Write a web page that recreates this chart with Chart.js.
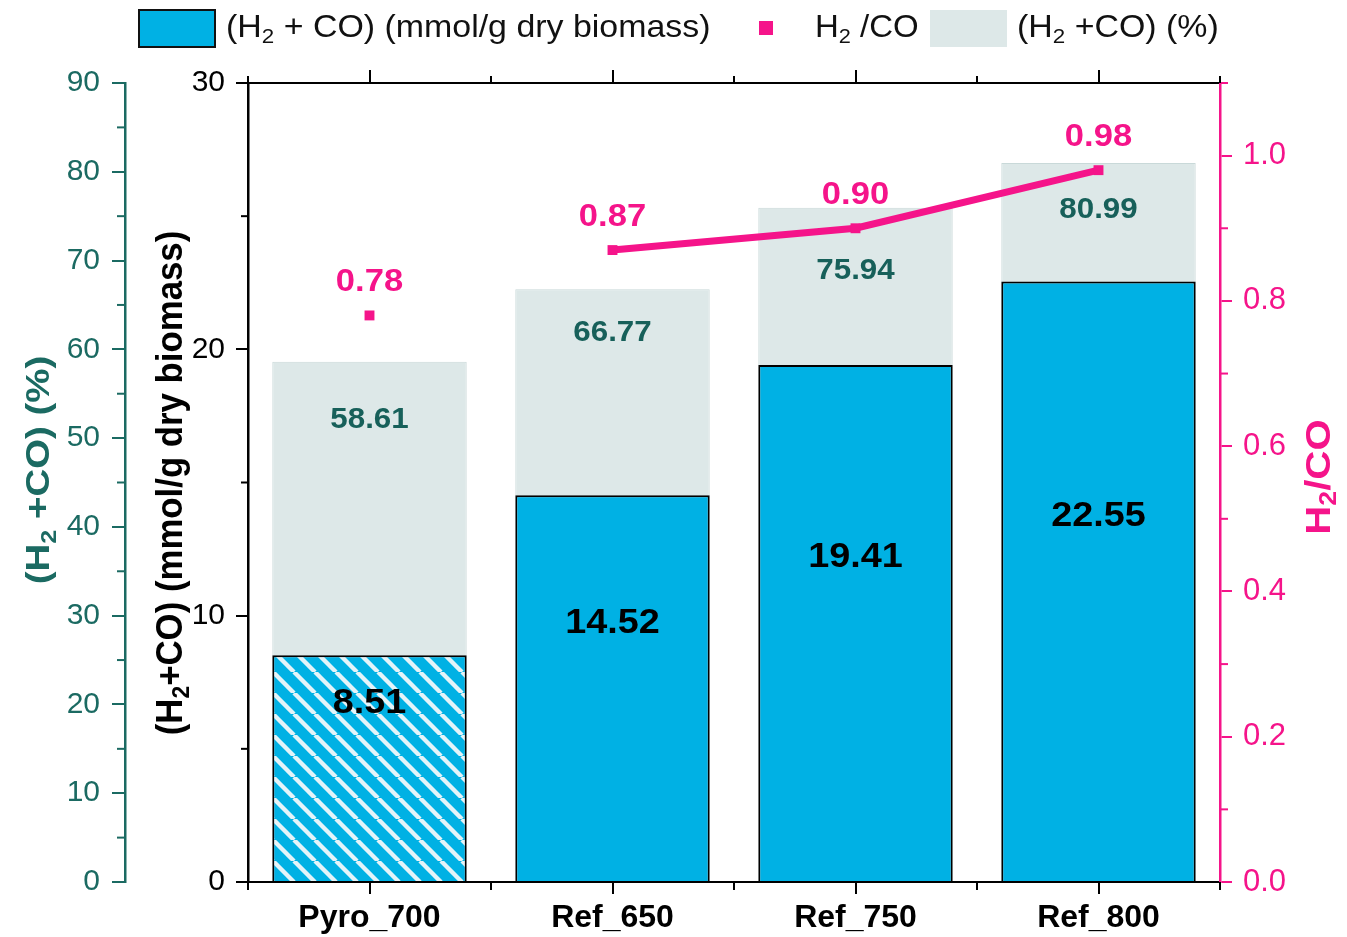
<!DOCTYPE html>
<html><head><meta charset="utf-8">
<script src="https://cdn.jsdelivr.net/npm/chart.js@4.4.1/dist/chart.umd.min.js"></script>
<style>html,body{margin:0;padding:0;background:#fff;overflow:hidden}canvas{display:block}</style>
</head><body>
<canvas id="c" width="1347" height="937"></canvas>
<script>
// ---------------- data ----------------
const categories = ['Pyro_700', 'Ref_650', 'Ref_750', 'Ref_800'];
const syngasYield = [8.51, 14.52, 19.41, 22.55];      // (H2+CO) mmol/g dry biomass
const syngasPercent = [58.61, 66.77, 75.94, 80.99];   // (H2+CO) %
const h2coRatio = [0.78, 0.87, 0.90, 0.98];           // H2/CO
const yieldRange = [0, 30];
const percentRange = [0, 90];
const ratioRange = [0, 1.1];

// ---------------- styles ----------------
const BLUE = '#00b1e4', PINK = '#f5148a', TEAL = '#1b6a62', TEAL_TXT = '#17605a', LIGHT = '#dde8e8';
const SANS = "'Liberation Sans', Arial, sans-serif";

// hatch pattern for first bar
function makeHatch() {
  const s = 21, c = document.createElement('canvas');
  c.width = s; c.height = s;
  const g = c.getContext('2d');
  g.fillStyle = BLUE; g.fillRect(0, 0, s, s);
  g.strokeStyle = '#e4f4f9'; g.lineWidth = 4.4;
  for (const o of [-s, 0, s]) { g.beginPath(); g.moveTo(o, 0); g.lineTo(o + s, s); g.stroke(); }
  return g.createPattern(c, 'repeat');
}
const hatch = makeHatch();

// rich text with subscripts: parts = [[text, isSub], ...]
function richWidth(ctx, parts, size, weight, family) {
  let w = 0;
  for (const [t, sub] of parts) { ctx.font = `${weight} ${sub ? size * 0.66 : size}px ${family}`; w += ctx.measureText(t).width; }
  return w;
}
function drawRich(ctx, parts, x, y, size, weight, color, align, rot, sx) {
  ctx.save();
  ctx.translate(x, y);
  if (rot) ctx.rotate(rot);
  ctx.scale(sx || 1.08, 1);
  const w = richWidth(ctx, parts, size, weight, SANS);
  let cx = align === 'center' ? -w / 2 : 0;
  ctx.fillStyle = color; ctx.textBaseline = 'middle'; ctx.textAlign = 'left';
  for (const [t, sub] of parts) {
    ctx.font = `${weight} ${sub ? size * 0.66 : size}px ${SANS}`;
    ctx.fillText(t, cx, sub ? size * 0.28 : 0);
    cx += ctx.measureText(t).width;
  }
  ctx.restore();
}

const decorPlugin = {
  id: 'decor',
  afterDraw(chart) {
    const ctx = chart.ctx, ca = chart.chartArea, sc = chart.scales;
    ctx.save();
    ctx.lineWidth = 2; ctx.lineCap = 'butt';
    const seg = (x1, y1, x2, y2, col) => { ctx.strokeStyle = col; ctx.beginPath(); ctx.moveTo(x1, y1); ctx.lineTo(x2, y2); ctx.stroke(); };
    // minor ticks
    for (let v = 5; v < yieldRange[1]; v += 10) { const y = sc.y.getPixelForValue(v); seg(ca.left - 7, y, ca.left, y, '#000'); }
    for (let v = 5; v < percentRange[1]; v += 10) { const y = sc.yPct.getPixelForValue(v); seg(sc.yPct.right - 8, y, sc.yPct.right, y, TEAL); }
    for (let k = 1; k <= 11; k += 2) { const y = sc.yRatio.getPixelForValue(k / 10); seg(ca.right, y, ca.right + 8, y, PINK); }
    for (let i = 0; i <= categories.length; i++) {
      const x = sc.x.getPixelForValue(i - 0.5);
      seg(x, ca.bottom, x, ca.bottom + 8, '#000');
      seg(x, ca.top, x, ca.top - 7, '#000');
    }
    // data labels
    const mPct = chart.getDatasetMeta(0), mY = chart.getDatasetMeta(1), mR = chart.getDatasetMeta(2);
    const pctOffset = [58, 44, 63, 47];
    const yieldLabelAt = [6.7, 9.73, 12.2, 13.74];
    mPct.data.forEach((b, i) => drawRich(ctx, [[syngasPercent[i].toFixed(2), 0]], b.x, b.y + pctOffset[i], 29, 'bold', TEAL_TXT, 'center'));
    mY.data.forEach((b, i) => drawRich(ctx, [[syngasYield[i].toFixed(2), 0]], b.x, sc.y.getPixelForValue(yieldLabelAt[i]), 35, 'bold', '#000', 'center'));
    mR.data.forEach((p, i) => drawRich(ctx, [[h2coRatio[i].toFixed(2), 0]], p.x, p.y - 33, 32, 'bold', PINK, 'center'));
    // axis titles
    drawRich(ctx, [['(H', 0], ['2', 1], [' +CO) (%)', 0]], 40, 470, 34, 'bold', TEAL, 'center', -Math.PI / 2, 1.13);
    drawRich(ctx, [['(H', 0], ['2', 1], ['+CO) (mmol/g dry biomass)', 0]], 172, 483, 37, 'bold', '#000', 'center', -Math.PI / 2, 0.94);
    drawRich(ctx, [['H', 0], ['2', 1], ['/CO', 0]], 1320, 477, 35, 'bold', PINK, 'center', -Math.PI / 2, 1.15);
    // legend
    ctx.fillStyle = BLUE; ctx.fillRect(139, 10, 76, 37);
    ctx.strokeStyle = '#111'; ctx.lineWidth = 2; ctx.strokeRect(139, 10, 76, 37);
    drawRich(ctx, [['(H', 0], ['2', 1], [' + CO) (mmol/g dry biomass)', 0]], 226, 28, 32, 'normal', '#111', 'left', 0, 1.06);
    ctx.fillStyle = PINK; ctx.fillRect(759, 21, 14, 14);
    drawRich(ctx, [['H', 0], ['2', 1], [' /CO', 0]], 815, 28, 32, 'normal', '#111', 'left', 0, 1.03);
    ctx.fillStyle = LIGHT; ctx.fillRect(930, 10, 77, 37);
    drawRich(ctx, [['(H', 0], ['2', 1], [' +CO) (%)', 0]], 1017, 28, 32, 'normal', '#111', 'left', 0, 1.06);
    ctx.restore();
  }
};

new Chart(document.getElementById('c'), {
  data: {
    labels: categories,
    datasets: [
      { type: 'bar', label: '(H2 +CO) (%)', data: syngasPercent, yAxisID: 'yPct', xAxisID: 'x',
        backgroundColor: LIGHT, borderColor: '#c9d9d9', borderWidth: 1, grouped: false,
        barPercentage: 0.8, categoryPercentage: 1, order: 3 },
      { type: 'bar', label: '(H2 + CO) (mmol/g dry biomass)', data: syngasYield, yAxisID: 'y', xAxisID: 'x',
        backgroundColor: syngasYield.map((v, i) => i === 0 ? hatch : BLUE), borderColor: '#000', borderWidth: 2,
        grouped: false, barPercentage: 0.8, categoryPercentage: 1, order: 2 },
      { type: 'line', label: 'H2/CO', data: h2coRatio, yAxisID: 'yRatio', xAxisID: 'x',
        borderColor: PINK, backgroundColor: PINK, borderWidth: 7, pointStyle: 'rect', pointRadius: 7,
        pointBorderWidth: 0, order: 1,
        segment: { borderColor: c => c.p0DataIndex === 0 ? 'rgba(0,0,0,0)' : PINK } }
    ]
  },
  options: {
    responsive: false, animation: false, events: [],
    layout: { padding: 0 },
    plugins: { legend: { display: false }, tooltip: { enabled: false } },
    scales: {
      x: { type: 'category', position: 'bottom', offset: true,
        grid: { offset: false, drawOnChartArea: false, tickLength: 12, color: '#000', lineWidth: 2 },
        border: { color: '#000', width: 2 },
        ticks: { color: '#000', padding: 5, font: { family: SANS, size: 32, weight: 'bold' } },
        afterFit: s => { s.height = 55; } },
      xTop: { type: 'category', position: 'top', offset: true,
        grid: { offset: false, drawOnChartArea: false, tickLength: 13, color: '#000', lineWidth: 2 },
        border: { color: '#000', width: 2 },
        ticks: { display: false },
        afterFit: s => { s.height = 83; } },
      y: { type: 'linear', position: 'left', weight: 0, min: yieldRange[0], max: yieldRange[1],
        grid: { drawOnChartArea: false, tickLength: 12, color: '#000', lineWidth: 2 },
        border: { color: '#000', width: 2.5 },
        ticks: { stepSize: 10, color: '#000', padding: 11, font: { family: SANS, size: 30 } },
        afterFit: s => { s.width = 123; } },
      yPct: { type: 'linear', position: 'left', weight: 1, min: percentRange[0], max: percentRange[1],
        grid: { drawOnChartArea: false, tickLength: 13, color: TEAL, lineWidth: 2 },
        border: { color: TEAL, width: 2.5 },
        ticks: { stepSize: 10, color: TEAL, padding: 12, font: { family: SANS, size: 30 } },
        afterFit: s => { s.width = 125; } },
      yRatio: { type: 'linear', position: 'right', min: ratioRange[0], max: ratioRange[1],
        grid: { drawOnChartArea: false, tickLength: 12, color: PINK, lineWidth: 2 },
        border: { color: PINK, width: 2.5 },
        ticks: { stepSize: 0.2, color: PINK, padding: 11, font: { family: SANS, size: 31 },
          callback: v => v.toFixed(1) },
        afterBuildTicks: s => { s.ticks = s.ticks.filter(t => t.value <= 1.0001); },
        afterFit: s => { s.width = 127; } }
    }
  },
  plugins: [decorPlugin]
});
</script>
</body></html>
